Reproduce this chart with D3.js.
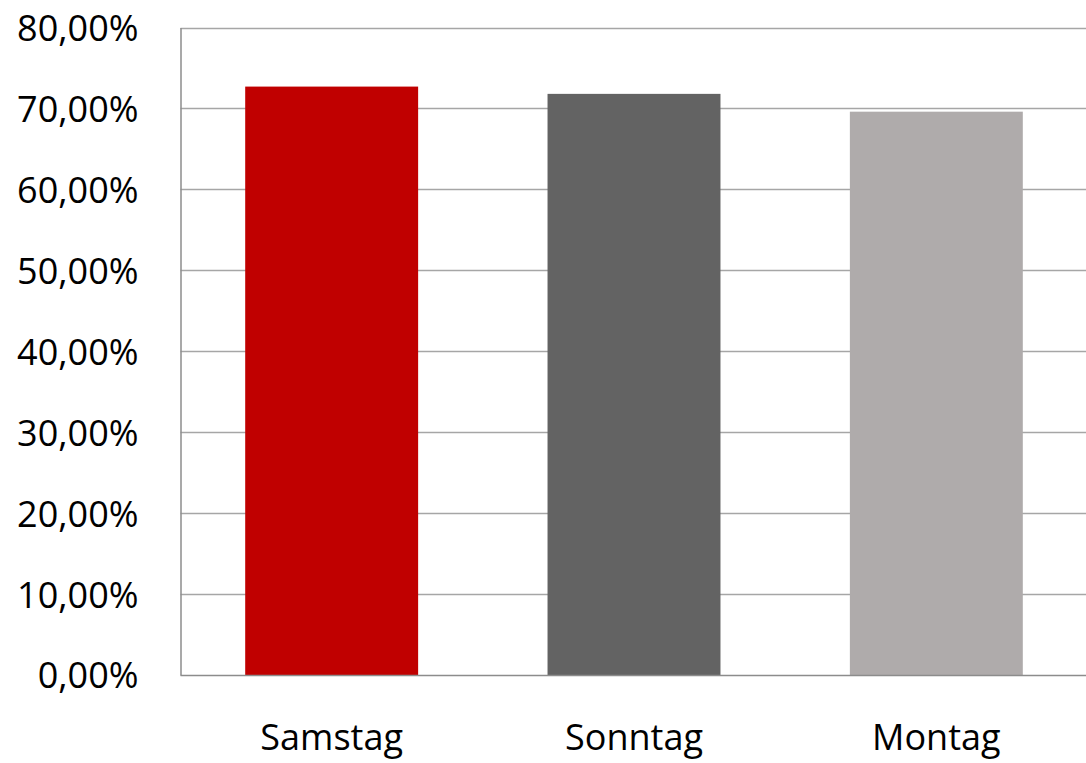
<!DOCTYPE html>
<html>
<head>
<meta charset="utf-8">
<script src="https://cdn.jsdelivr.net/npm/d3@7/dist/d3.min.js"></script>
<style>
  html, body { margin: 0; padding: 0; background: #fff; }
  svg { display: block; }
  text { font-family: "Open Sans", "Liberation Sans", sans-serif; fill: #000; }
</style>
</head>
<body>
<svg id="chart" width="1086" height="763"></svg>
<script>
const categories = ["Samstag", "Sonntag", "Montag"];
const values = [72.7, 71.8, 69.6];
const colors = ["#c00000", "#636363", "#afabab"];
const yTicks = [0, 10, 20, 30, 40, 50, 60, 70, 80];

const svg = d3.select("#chart");
const margin = { left: 180.5, right: -1.5, top: 27.5, bottom: 88 };
const W = 1086, H = 763;
const x0 = margin.left, x1 = W - margin.right;
const y0 = H - margin.bottom, y1 = margin.top;

const x = d3.scaleBand().domain(categories).range([x0, x1]).paddingInner(0.428).paddingOuter(0.214);
const y = d3.scaleLinear().domain([0, 80]).range([y0, y1]);

// gridlines
svg.append("g")
  .selectAll("line")
  .data(yTicks.filter(d => d > 0))
  .join("line")
  .attr("x1", x0).attr("x2", W)
  .attr("y1", d => Math.round(y(d)) + 0.5).attr("y2", d => Math.round(y(d)) + 0.5)
  .attr("stroke", "#a6a6a6").attr("stroke-width", 1.3);

// bars
svg.append("g")
  .selectAll("rect")
  .data(categories)
  .join("rect")
  .attr("x", d => x(d))
  .attr("width", x.bandwidth())
  .attr("y", (d, i) => y(values[i]))
  .attr("height", (d, i) => y0 - y(values[i]))
  .attr("fill", (d, i) => colors[i]);

// y axis
const fmt = d => d.toFixed(2).replace(".", ",") + "%";
const yAxis = d3.axisLeft(y).tickValues(yTicks).tickFormat(fmt).tickSize(0).tickPadding(42);
const gy = svg.append("g").attr("transform", `translate(${x0},0)`).call(yAxis);
gy.select(".domain").attr("stroke", "#8c8c8c").attr("stroke-width", 1.5);
gy.selectAll("text").style("font-size", "36px").style("font-family", "'Open Sans', sans-serif").attr("fill", "#000").attr("dy", "0.36em");

// x axis
const xAxis = d3.axisBottom(x).tickSize(0).tickPadding(49);
const gx = svg.append("g").attr("transform", `translate(0,${y0})`).call(xAxis);
gx.select(".domain").attr("d", `M${x0},0.5H${W}`).attr("stroke", "#8c8c8c").attr("stroke-width", 1.5);
gx.selectAll("text").style("font-size", "36px").style("font-family", "'Open Sans', sans-serif").attr("fill", "#000");
</script>
</body>
</html>
